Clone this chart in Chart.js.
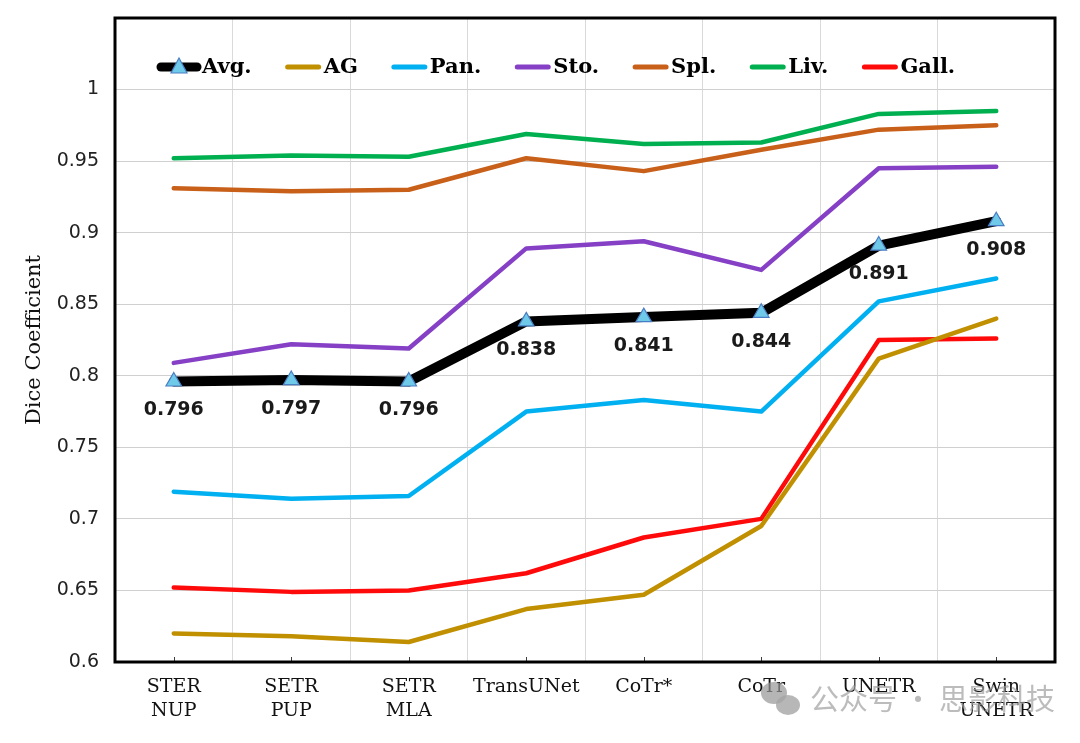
<!DOCTYPE html>
<html>
<head>
<meta charset="utf-8">
<script src="https://cdn.jsdelivr.net/npm/chart.js@4.4.1/dist/chart.umd.min.js"></script>
<style>
  html, body { margin: 0; padding: 0; background: #fff; }
  #wrap { width: 1080px; height: 743px; }
</style>
</head>
<body>
<div id="wrap"><canvas id="diceChart"></canvas></div>
<script>
// =============================
// DATA
// =============================
const categories = [["STER", "NUP"], ["SETR", "PUP"], ["SETR", "MLA"], "TransUNet", "CoTr*", "CoTr", "UNETR", ["Swin", "UNETR"]];

const avgScores  = [0.796, 0.797, 0.796, 0.838, 0.841, 0.844, 0.891, 0.908];
const agScores   = [0.620, 0.618, 0.614, 0.637, 0.647, 0.695, 0.812, 0.840];
const panScores  = [0.719, 0.714, 0.716, 0.775, 0.783, 0.775, 0.852, 0.868];
const stoScores  = [0.809, 0.822, 0.819, 0.889, 0.894, 0.874, 0.945, 0.946];
const splScores  = [0.931, 0.929, 0.930, 0.952, 0.943, 0.958, 0.972, 0.975];
const livScores  = [0.952, 0.954, 0.953, 0.969, 0.962, 0.963, 0.983, 0.985];
const gallScores = [0.652, 0.649, 0.650, 0.662, 0.687, 0.700, 0.825, 0.826];

const yMin = 0.6, yMax = 1.05, yStep = 0.05;

const serif = "'DejaVu Serif', serif";
const sans = "'DejaVu Sans', sans-serif";

// =============================
// Helpers
// =============================
function lineSet(label, data, color) {
  return {
    label: label,
    data: data,
    borderColor: color,
    backgroundColor: color,
    borderWidth: 4.5,
    borderCapStyle: "round",
    borderJoinStyle: "round",
    pointRadius: 0,
    pointHoverRadius: 0,
    tension: 0,
    fill: false
  };
}

// legend drawn inside the plot area
const insideLegend = {
  id: "insideLegend",
  afterDraw(chart) {
    const ctx = chart.ctx;
    const y = chart.chartArea.top + 49;
    let x = 158;
    ctx.save();
    ctx.font = "bold 21px " + serif;
    ctx.textBaseline = "middle";
    chart.data.datasets.forEach((ds, i) => {
      const len = i === 0 ? 42 : 37;
      ctx.strokeStyle = ds.borderColor;
      ctx.lineWidth = i === 0 ? 9 : 5;
      ctx.lineCap = "round";
      ctx.beginPath();
      ctx.moveTo(x + 3, y);
      ctx.lineTo(x + len - 3, y);
      ctx.stroke();
      if (i === 0) {
        const cx = x + len / 2;
        ctx.fillStyle = ds.pointBackgroundColor;
        ctx.strokeStyle = ds.pointBorderColor;
        ctx.lineWidth = 1.2;
        ctx.beginPath();
        ctx.moveTo(cx, y - 9);
        ctx.lineTo(cx + 8, y + 6);
        ctx.lineTo(cx - 8, y + 6);
        ctx.closePath();
        ctx.fill();
        ctx.stroke();
      }
      x += len + 2;
      ctx.fillStyle = "#000";
      ctx.fillText(ds.label, x, y + 1);
      x += ctx.measureText(ds.label).width + 33;
    });
    ctx.restore();
  }
};

// frame, small x ticks, avg value labels, watermark
const decorations = {
  id: "decorations",
  afterDatasetsDraw(chart) {
    const ctx = chart.ctx;
    const meta = chart.getDatasetMeta(0);
    ctx.save();
    ctx.font = "bold 19px " + sans;
    ctx.fillStyle = "#1a1a1a";
    ctx.textAlign = "center";
    ctx.textBaseline = "middle";
    meta.data.forEach((pt, i) => {
      ctx.fillText(avgScores[i].toFixed(3), pt.x, pt.y + 29);
    });
    ctx.restore();
  },
  afterDraw(chart) {
    const ctx = chart.ctx;
    const a = chart.chartArea;
    const xs = chart.scales.x;
    ctx.save();
    // small tick marks on the bottom axis
    ctx.strokeStyle = "#404040";
    ctx.lineWidth = 1;
    xs.ticks.forEach((t, i) => {
      const px = Math.round(xs.getPixelForTick(i)) + 0.5;
      ctx.beginPath();
      ctx.moveTo(px, a.bottom - 5);
      ctx.lineTo(px, a.bottom);
      ctx.stroke();
    });
    // heavy frame
    ctx.strokeStyle = "#000";
    ctx.lineWidth = 3;
    ctx.strokeRect(a.left, a.top, a.right - a.left, a.bottom - a.top);

    // watermark
    ctx.fillStyle = "rgba(150,150,150,0.7)";
    ctx.beginPath();
    ctx.ellipse(774, 693, 13, 11, 0, 0, Math.PI * 2);
    ctx.fill();
    ctx.fillStyle = "rgba(165,165,165,0.8)";
    ctx.beginPath();
    ctx.ellipse(788, 705, 12, 10, 0, 0, Math.PI * 2);
    ctx.fill();
    ctx.fillStyle = "rgba(160,160,160,0.7)";
    ctx.font = "29px 'Noto Sans CJK SC', sans-serif";
    ctx.textAlign = "left";
    ctx.textBaseline = "middle";
    ctx.fillText("公众号 · 思影科技", 810, 699);
    ctx.restore();
  }
};

// =============================
// Chart
// =============================
const avgSet = lineSet("Avg.", avgScores, "#000000");
avgSet.borderWidth = 10;
avgSet.pointStyle = "triangle";
avgSet.pointRadius = 9;
avgSet.pointHoverRadius = 9;
avgSet.pointBackgroundColor = "#6FC9E9";
avgSet.pointBorderColor = "#4A7EC4";
avgSet.pointBorderWidth = 1.2;

new Chart(document.getElementById("diceChart"), {
  type: "line",
  data: {
    labels: categories,
    datasets: [
      avgSet,
      lineSet("AG", agScores, "#C09000"),
      lineSet("Pan.", panScores, "#00B0F0"),
      lineSet("Sto.", stoScores, "#8540C6"),
      lineSet("Spl.", splScores, "#C8601A"),
      lineSet("Liv.", livScores, "#00B050"),
      lineSet("Gall.", gallScores, "#FF0A0A")
    ]
  },
  options: {
    responsive: true,
    maintainAspectRatio: false,
    animation: false,
    layout: { padding: { top: 18, right: 25, left: 0, bottom: 0 } },
    plugins: {
      legend: { display: false },
      tooltip: { enabled: false }
    },
    scales: {
      x: {
        offset: true,
        grid: { offset: true, color: "#DADADA", lineWidth: 1, drawTicks: false },
        border: { display: false },
        ticks: {
          color: "#111",
          font: { family: serif, size: 19, lineHeight: 1.25 },
          padding: 13,
          maxRotation: 0,
          autoSkip: false
        },
        afterFit(scale) {
          scale.height = 81;
          scale.paddingTop = 0;
          scale.paddingBottom = 0;
        }
      },
      y: {
        min: yMin,
        max: yMax,
        grid: { color: "#D0D0D0", lineWidth: 1, drawTicks: false },
        border: { display: false },
        ticks: {
          stepSize: yStep,
          color: "#222",
          font: { family: sans, size: 19 },
          padding: 16,
          callback: v => (v > 1.001 ? "" : String(Number(v.toFixed(2))))
        },
        title: {
          display: true,
          text: "Dice Coefficient",
          color: "#111",
          font: { family: serif, size: 21 },
          padding: { top: 22, bottom: 0 }
        },
        afterFit(scale) {
          scale.width = 115;
          scale.paddingTop = 0;
          scale.paddingBottom = 0;
        }
      }
    }
  },
  plugins: [insideLegend, decorations]
});
</script>
</body>
</html>
